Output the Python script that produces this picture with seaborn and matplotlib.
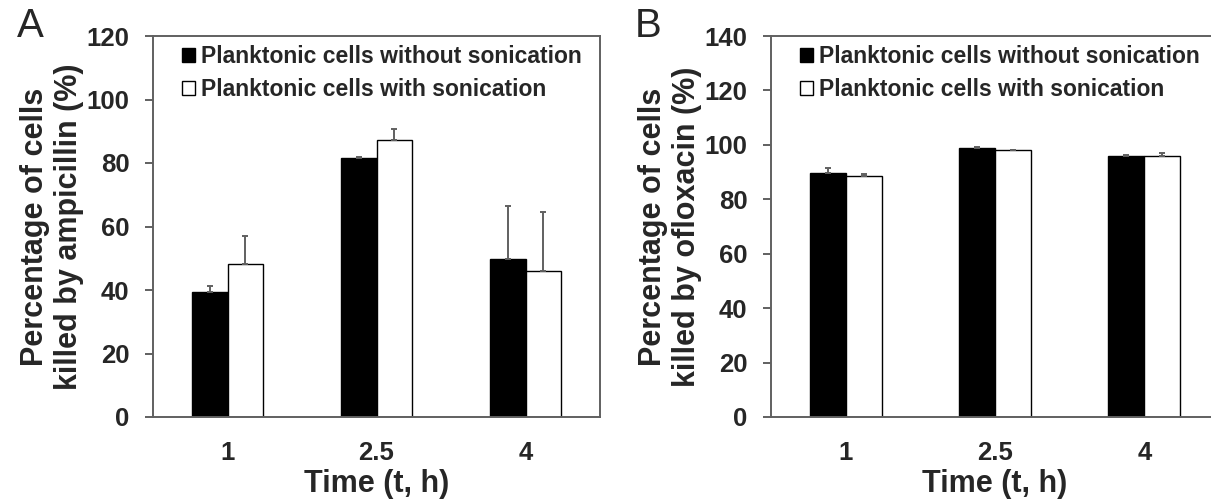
import matplotlib
matplotlib.use("Agg")
import matplotlib.pyplot as plt
from matplotlib.patches import Patch
import seaborn as sns
import pandas as pd
import numpy as np

sns.set_style("white")
plt.rcParams['font.family'] = ['Liberation Sans', 'DejaVu Sans']

times = ["1", "2.5", "4"]
groups = ["Planktonic cells without sonication", "Planktonic cells with sonication"]

amp_without = [39.3, 81.6, 49.7]
amp_with = [48.2, 87.4, 46.0]
amp_without_err = [2.1, 0.3, 16.9]
amp_with_err = [8.7, 3.2, 18.7]

oflx_without = [89.8, 99.0, 96.0]
oflx_with = [88.4, 98.0, 96.0]
oflx_without_err = [1.7, 0.2, 0.2]
oflx_with_err = [0.9, 0.2, 1.1]

ylabels = ["Percentage of cells\nkilled by ampicillin (%)",
           "Percentage of cells\nkilled by ofloxacin (%)"]
panel_letters = ["A", "B"]

fig = plt.figure(figsize=(12.11, 5.01), dpi=100)
W, H = 1211, 501
axA = fig.add_axes([153 / W, (501 - 417) / H, (600 - 153) / W, (417 - 36) / H])
axB = fig.add_axes([771 / W, (501 - 417) / H, (1219 - 771) / W, (417 - 36) / H])

spine_col = "#606060"
err_col = "#606060"
palette = {groups[0]: "black", groups[1]: "white"}


def draw(ax, vw, vwi, ew, ewi, ymax, ylabel, letter, letter_x):
    df = pd.DataFrame({
        "Time": times * 2,
        "Group": [groups[0]] * 3 + [groups[1]] * 3,
        "Value": list(vw) + list(vwi),
    })
    sns.barplot(data=df, x="Time", y="Value", hue="Group", order=times,
                hue_order=groups, palette=palette, edgecolor="black",
                linewidth=1.0, width=0.48, errorbar=None, ax=ax,
                legend=False, saturation=1)
    for cont, errs in zip(ax.containers, [ew, ewi]):
        xs = [p.get_x() + p.get_width() / 2 for p in cont.patches]
        hs = [p.get_height() for p in cont.patches]
        ax.errorbar(xs, hs, yerr=[np.zeros(len(errs)), errs], fmt="none",
                    ecolor=err_col, elinewidth=1.4, capsize=2.5,
                    capthick=1.4, zorder=1)
    ax.set_xlim(-0.5, 2.5)
    ax.set_ylim(0, ymax)
    ax.set_yticks(np.arange(0, ymax + 1, 20))
    ax.set_xticks([0, 1, 2])
    ax.set_xticklabels(times)
    # category boundary ticks
    ax.set_xticks([-0.5, 0.5, 1.5, 2.5], minor=True)
    ax.tick_params(axis="x", which="major", length=0, pad=17, labelsize=18.5)
    ax.tick_params(axis="x", which="minor", length=6, width=1.4,
                   color=spine_col, direction="out")
    ax.tick_params(axis="y", which="major", length=6, width=1.4,
                   color=spine_col, direction="out", pad=11, labelsize=18.5, left=True)
    for lab in ax.get_xticklabels() + ax.get_yticklabels():
        lab.set_fontweight("bold")
    for s in ax.spines.values():
        s.set_color(spine_col)
        s.set_linewidth(1.4)
        s.set_visible(True)
    ax.set_xlabel("Time (t, h)", fontsize=22, fontweight="bold", labelpad=3)
    ax.set_ylabel(ylabel, fontsize=22, fontweight="bold", labelpad=2,
                  linespacing=1.15)
    handles = [Patch(facecolor="black", edgecolor="black", linewidth=1.0),
               Patch(facecolor="white", edgecolor="black", linewidth=1.0)]
    ax.legend(handles, groups, loc="upper left", bbox_to_anchor=(0.045, 1.0),
              frameon=False, prop={"weight": "bold", "size": 16.5},
              handlelength=0.55, handleheight=0.55, handletextpad=0.25,
              labelspacing=0.42, borderaxespad=0.0)
    fig.text(letter_x, 1 - 26 / H, letter, fontsize=29, ha="center", va="center")


draw(axA, amp_without, amp_with, amp_without_err, amp_with_err, 120,
     ylabels[0], panel_letters[0], 30 / W)
draw(axB, oflx_without, oflx_with, oflx_without_err, oflx_with_err, 140,
     ylabels[1], panel_letters[1], 648 / W)

fig.savefig("out.png", dpi=100)
